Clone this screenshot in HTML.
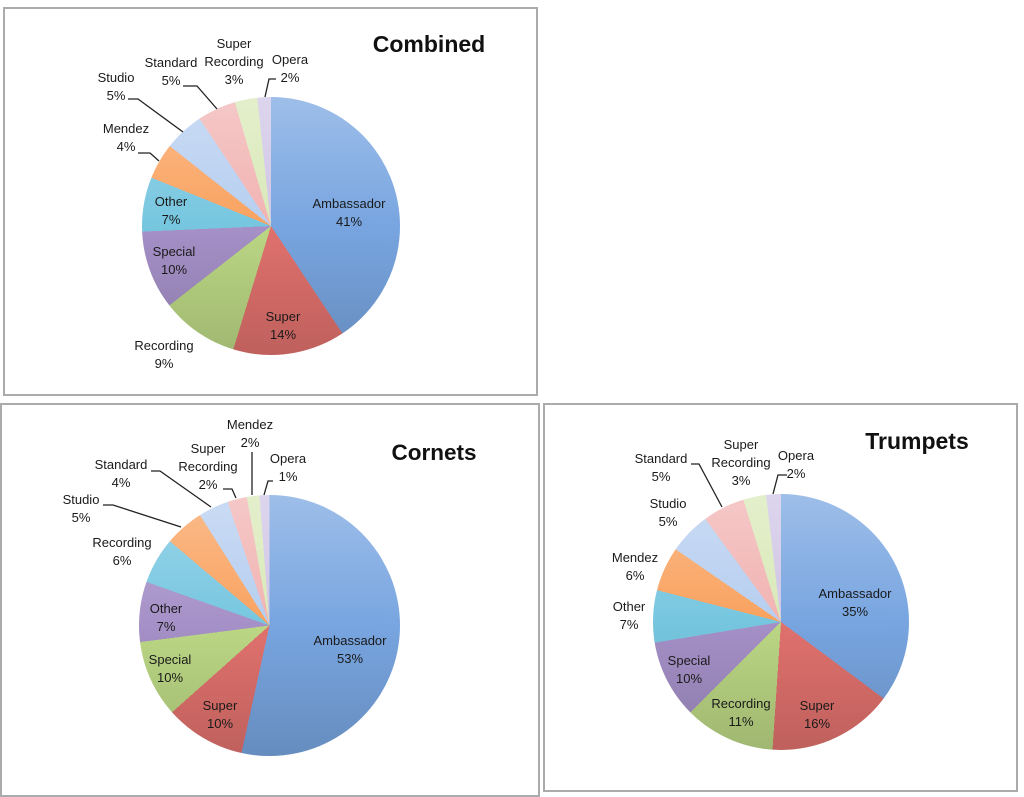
<!DOCTYPE html>
<html>
<head>
<meta charset="utf-8">
<style>
  html,body{margin:0;padding:0;background:#fff;}
  body{width:1024px;height:797px;position:relative;overflow:hidden;font-family:"Liberation Sans",Arial,sans-serif;}
  .box{position:absolute;box-sizing:border-box;border:2px solid #ababab;}
  .pie{position:absolute;border-radius:50%;}
  .l{position:absolute;width:130px;margin-left:-65px;text-align:center;font-size:13px;line-height:18px;color:#1a1a1a;white-space:nowrap;}
  .t{position:absolute;width:200px;margin-left:-100px;text-align:center;font-weight:bold;color:#111;white-space:nowrap;}
  svg{position:absolute;left:0;top:0;}
</style>
</head>
<body>
<div class="box" style="left:3px;top:7px;width:535px;height:389px;"></div>
<div class="box" style="left:0px;top:403px;width:540px;height:394px;"></div>
<div class="box" style="left:543px;top:403px;width:475px;height:389px;"></div>

<!-- Combined pie -->
<div class="pie" style="left:142px;top:97px;width:258px;height:258px;
background:linear-gradient(to bottom,rgba(255,255,255,.28) 0%,rgba(255,255,255,0) 50%,rgba(0,0,0,.15) 100%),
conic-gradient(#78a5e0 0deg 146.4deg,#e0716d 146.4deg 197deg,#bbd784 197deg 232deg,#a590c7 232deg 267.5deg,#76c6e0 267.5deg 292deg,#f9a25f 292deg 308.3deg,#b6cef0 308.3deg 326.4deg,#f1b3b2 326.4deg 343.7deg,#d9e9b8 343.7deg 353.9deg,#d0c5e6 353.9deg 360deg);"></div>

<!-- Cornets pie -->
<div class="pie" style="left:139px;top:495px;width:261px;height:261px;
background:linear-gradient(to bottom,rgba(255,255,255,.28) 0%,rgba(255,255,255,0) 50%,rgba(0,0,0,.15) 100%),
conic-gradient(#78a5e0 0deg 192.4deg,#e0716d 192.4deg 228.3deg,#bbd784 228.3deg 262.7deg,#a590c7 262.7deg 289.5deg,#76c6e0 289.5deg 310.2deg,#f9a25f 310.2deg 327.8deg,#b6cef0 327.8deg 341.3deg,#f1b3b2 341.3deg 350deg,#d9e9b8 350deg 355.6deg,#d0c5e6 355.6deg 360deg);"></div>

<!-- Trumpets pie -->
<div class="pie" style="left:653px;top:494px;width:256px;height:256px;
background:linear-gradient(to bottom,rgba(255,255,255,.28) 0%,rgba(255,255,255,0) 50%,rgba(0,0,0,.15) 100%),
conic-gradient(#78a5e0 0deg 126.7deg,#e0716d 126.7deg 183.8deg,#bbd784 183.8deg 225deg,#a590c7 225deg 260.7deg,#76c6e0 260.7deg 284.4deg,#f9a25f 284.4deg 304.6deg,#b6cef0 304.6deg 323.7deg,#f1b3b2 323.7deg 342.9deg,#d9e9b8 342.9deg 353.3deg,#d0c5e6 353.3deg 360deg);"></div>

<svg width="1024" height="797" viewBox="0 0 1024 797">
  <g fill="none" stroke="#222" stroke-width="1.3">
    <path d="M138,153 H150 L159,161"/>
    <path d="M128,99 H138 L183,132"/>
    <path d="M183,86 H197 L217,109"/>
    <path d="M276,79 H269 L265,97"/>
    <path d="M103,505 H113 L181,527"/>
    <path d="M151,471 H160 L211,507"/>
    <path d="M223,489 H232 L236,498"/>
    <path d="M252,452 V495"/>
    <path d="M273,481 H268 L264,495"/>
    <path d="M691,464 H699 L722,507"/>
    <path d="M787,475 H778 L773,494"/>
  </g>
</svg>

<!-- Titles -->
<div class="t" style="left:429px;top:33px;font-size:23px;line-height:23px;">Combined</div>
<div class="t" style="left:434px;top:441px;font-size:22.5px;line-height:23px;">Cornets</div>
<div class="t" style="left:917px;top:430px;font-size:23px;line-height:23px;">Trumpets</div>

<!-- Combined labels -->
<div class="l" style="left:349px;top:195px;">Ambassador<br>41%</div>
<div class="l" style="left:283px;top:308px;">Super<br>14%</div>
<div class="l" style="left:164px;top:337px;">Recording<br>9%</div>
<div class="l" style="left:174px;top:243px;">Special<br>10%</div>
<div class="l" style="left:171px;top:193px;">Other<br>7%</div>
<div class="l" style="left:126px;top:120px;">Mendez<br>4%</div>
<div class="l" style="left:116px;top:69px;">Studio<br>5%</div>
<div class="l" style="left:171px;top:54px;">Standard<br>5%</div>
<div class="l" style="left:234px;top:35px;">Super<br>Recording<br>3%</div>
<div class="l" style="left:290px;top:51px;">Opera<br>2%</div>

<!-- Cornets labels -->
<div class="l" style="left:350px;top:632px;">Ambassador<br>53%</div>
<div class="l" style="left:220px;top:697px;">Super<br>10%</div>
<div class="l" style="left:170px;top:651px;">Special<br>10%</div>
<div class="l" style="left:166px;top:600px;">Other<br>7%</div>
<div class="l" style="left:122px;top:534px;">Recording<br>6%</div>
<div class="l" style="left:81px;top:491px;">Studio<br>5%</div>
<div class="l" style="left:121px;top:456px;">Standard<br>4%</div>
<div class="l" style="left:208px;top:440px;">Super<br>Recording<br>2%</div>
<div class="l" style="left:250px;top:416px;">Mendez<br>2%</div>
<div class="l" style="left:288px;top:450px;">Opera<br>1%</div>

<!-- Trumpets labels -->
<div class="l" style="left:855px;top:585px;">Ambassador<br>35%</div>
<div class="l" style="left:817px;top:697px;">Super<br>16%</div>
<div class="l" style="left:741px;top:695px;">Recording<br>11%</div>
<div class="l" style="left:689px;top:652px;">Special<br>10%</div>
<div class="l" style="left:629px;top:598px;">Other<br>7%</div>
<div class="l" style="left:635px;top:549px;">Mendez<br>6%</div>
<div class="l" style="left:668px;top:495px;">Studio<br>5%</div>
<div class="l" style="left:661px;top:450px;">Standard<br>5%</div>
<div class="l" style="left:741px;top:436px;">Super<br>Recording<br>3%</div>
<div class="l" style="left:796px;top:447px;">Opera<br>2%</div>
</body>
</html>
